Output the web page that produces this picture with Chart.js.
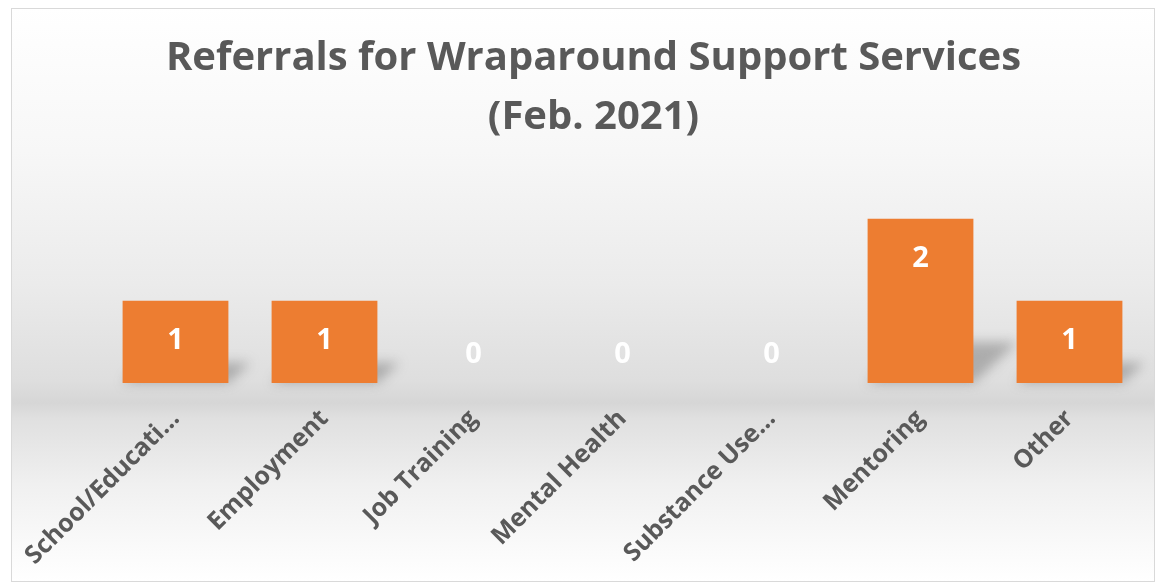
<!DOCTYPE html>
<html>
<head>
<meta charset="utf-8">
<script src="https://cdn.jsdelivr.net/npm/chart.js@4.4.1/dist/chart.umd.min.js"></script>
<style>
  body { margin: 0; background: #fff; }
  #wrap { width: 1158px; height: 586px; }
</style>
</head>
<body>
<div id="wrap"><canvas id="chart"></canvas></div>
<script>
// Data
const categories = ["School/Educati…", "Employment", "Job Training", "Mental Health", "Substance Use…", "Mentoring", "Other"];
const referrals = [1, 1, 0, 0, 0, 2, 1];
const titleLines = ["Referrals for Wraparound Support Services", "(Feb. 2021)"];

const ctx = document.getElementById("chart").getContext("2d");

// ----------------------
// Background gradient + frame
// ----------------------
const backdrop = {
    id: "backdrop",
    afterLayout(chart) {
        // centre the title on the frame, not on the plot area
        chart.titleBlock.left = 29;
        chart.titleBlock.right = 1158;
    },
    beforeDraw(chart) {
        const c = chart.ctx;
        const g = c.createLinearGradient(0, 8, 0, 582);
        g.addColorStop(0, "#ffffff");
        g.addColorStop(0.25, "#f7f7f7");
        g.addColorStop(0.48, "#ebebeb");
        g.addColorStop(0.65, "#dedede");
        g.addColorStop(0.688, "#d6d6d6");
        g.addColorStop(0.715, "#e0e0e0");
        g.addColorStop(0.83, "#f0f0f0");
        g.addColorStop(0.95, "#fbfbfb");
        g.addColorStop(1, "#ffffff");
        c.save();
        c.fillStyle = "#ffffff";
        c.fillRect(0, 0, chart.width, chart.height);
        c.fillStyle = g;
        c.fillRect(11, 8, 1144, 574);
        c.strokeStyle = "#d9d9d9";
        c.lineWidth = 1;
        c.strokeRect(11.5, 8.5, 1143, 573);
        c.restore();
    }
};

// ----------------------
// Floor shadows behind bars
// ----------------------
const barShadow = {
    id: "barShadow",
    beforeDatasetsDraw(chart) {
        const c = chart.ctx;
        const meta = chart.getDatasetMeta(0);
        c.save();
        c.filter = "blur(6px)";
        c.fillStyle = "rgba(100,100,100,0.42)";
        meta.data.forEach((bar) => {
            const hgt = bar.base - bar.y;
            if (hgt <= 0) return;
            const left = bar.x - bar.width / 2;
            const right = bar.x + bar.width / 2;
            const dx = hgt * 0.27;
            const dy = hgt * 0.25;
            c.beginPath();
            c.moveTo(left, bar.base);
            c.lineTo(right, bar.base);
            c.lineTo(right + dx, bar.base - dy);
            c.lineTo(left + dx, bar.base - dy);
            c.closePath();
            c.fill();
        });
        c.restore();
    }
};

// ----------------------
// Value labels
// ----------------------
const valueLabels = {
    id: "valueLabels",
    afterDatasetsDraw(chart) {
        const c = chart.ctx;
        const meta = chart.getDatasetMeta(0);
        c.save();
        c.fillStyle = "#ffffff";
        c.font = "bold 29px 'Open Sans'";
        c.textAlign = "center";
        c.textBaseline = "middle";
        meta.data.forEach((bar, i) => {
            const v = referrals[i];
            const y = v > 0 ? bar.y + 40 : bar.base - 28;
            c.fillText(String(v), bar.x, y);
        });
        c.restore();
    }
};

new Chart(ctx, {
    type: "bar",
    data: {
        labels: categories,
        datasets: [{
            data: referrals,
            backgroundColor: "#ED7D31",
            borderWidth: 0,
            categoryPercentage: 1,
            barPercentage: 0.71
        }]
    },
    options: {
        responsive: true,
        maintainAspectRatio: false,
        animation: false,
        layout: { padding: { left: 101, right: 14, top: 0, bottom: 0 } },
        plugins: {
            legend: { display: false },
            tooltip: { enabled: false },
            title: {
                display: true,
                text: titleLines,
                color: "#595959",
                font: { family: "'Open Sans'", size: 40, weight: "bold", lineHeight: 1.47 },
                padding: { top: 29, bottom: 31 }
            }
        },
        scales: {
            x: {
                grid: { display: false, drawTicks: false },
                border: { display: false },
                ticks: {
                    autoSkip: false,
                    minRotation: 45,
                    maxRotation: 45,
                    padding: 21,
                    color: "#595959",
                    font: { family: "'Open Sans'", size: 25, weight: "bold" }
                },
                afterFit(scale) {
                    scale.height = 203;
                    scale.paddingLeft = 0;
                    scale.paddingRight = 0;
                }
            },
            y: {
                display: false,
                min: 0,
                max: 2.5
            }
        }
    },
    plugins: [backdrop, barShadow, valueLabels]
});
</script>
</body>
</html>
